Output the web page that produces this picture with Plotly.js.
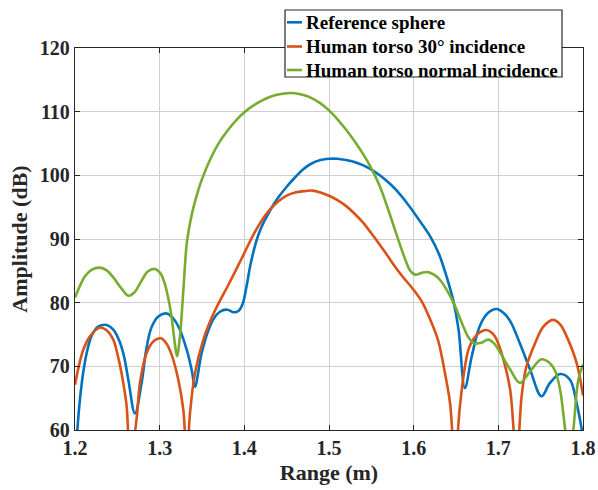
<!DOCTYPE html>
<html>
<head>
<meta charset="utf-8">
<script src="https://cdn.plot.ly/plotly-3.0.1.min.js"></script>
<style>html,body{margin:0;padding:0;background:#fff;}#chart{width:598px;height:490px;}</style>
</head>
<body>
<div id="chart"></div>
<script>
// Reference sphere
const sphereX = [1.200, 1.2027, 1.206, 1.21, 1.215, 1.22, 1.227, 1.2374, 1.245, 1.253, 1.258, 1.263, 1.2708, 1.2787, 1.284, 1.29, 1.298, 1.3083, 1.315, 1.322, 1.332, 1.338, 1.3417, 1.3496, 1.3594, 1.366, 1.373, 1.38, 1.387, 1.393, 1.398, 1.4025, 1.407, 1.414, 1.42, 1.43, 1.44, 1.45, 1.46, 1.47, 1.48, 1.49, 1.50, 1.51, 1.52, 1.53, 1.54, 1.55, 1.56, 1.57, 1.58, 1.59, 1.60, 1.61, 1.62, 1.63, 1.64, 1.647, 1.653, 1.6605, 1.6685, 1.678, 1.688, 1.698, 1.706, 1.714, 1.7255, 1.7375, 1.751, 1.761, 1.773, 1.7846, 1.7925, 1.8];
const sphereY = [55, 60, 65, 69.3, 72.8, 74.9, 76.2, 76.5, 75.8, 73.8, 71.5, 67.9, 62.6, 67.4, 72.5, 76.0, 77.8, 78.3, 77.7, 76.3, 72.6, 69.3, 66.8, 72.1, 76.3, 77.9, 78.7, 78.9, 78.5, 78.7, 79.8, 82.5, 85.8, 89.6, 91.8, 94.4, 96.5, 98.2, 99.7, 101.0, 101.9, 102.4, 102.6, 102.6, 102.4, 102.1, 101.6, 100.9, 100.0, 98.9, 97.6, 96.0, 94.2, 92.3, 90.3, 87.6, 83.6, 80.2, 75.8, 66.6, 71.5, 76.3, 78.4, 79.0, 78.4, 77.1, 73.6, 69.5, 65.3, 67.4, 68.8, 67.9, 64.2, 59];

// Human torso 30° incidence
const obliqueX = [1.200, 1.205, 1.2098, 1.2177, 1.2295, 1.238, 1.2452, 1.25, 1.255, 1.261, 1.265, 1.2728, 1.2767, 1.2846, 1.2925, 1.3012, 1.308, 1.3142, 1.322, 1.328, 1.332, 1.3358, 1.3417, 1.3516, 1.36, 1.37, 1.38, 1.39, 1.40, 1.41, 1.42, 1.43, 1.44, 1.45, 1.46, 1.47, 1.48, 1.49, 1.50, 1.51, 1.52, 1.53, 1.54, 1.55, 1.56, 1.57, 1.58, 1.59, 1.60, 1.61, 1.62, 1.629, 1.637, 1.643, 1.6487, 1.6546, 1.6605, 1.666, 1.676, 1.686, 1.693, 1.698, 1.706, 1.714, 1.7216, 1.7275, 1.733, 1.7433, 1.753, 1.7645, 1.773, 1.7807, 1.7925, 1.8];
const obliqueY = [67.1, 70.3, 72.6, 74.7, 76.1, 75.6, 74.2, 72.0, 68.9, 63.7, 55, 61.8, 67.4, 72.1, 73.9, 74.4, 73.6, 71.8, 67.9, 63.1, 55, 62.6, 68.9, 74.2, 77.2, 80.0, 82.5, 85.1, 87.8, 90.5, 92.8, 94.6, 95.9, 96.8, 97.3, 97.5, 97.6, 97.3, 96.8, 96.1, 95.2, 94.0, 92.6, 90.9, 89.1, 87.2, 85.3, 83.6, 82.0, 80.1, 77.2, 74.0, 68.9, 64.2, 55, 63.7, 69.9, 73.1, 75.1, 75.7, 75.2, 74.2, 71.1, 66.3, 55, 65.3, 69.9, 73.6, 76.2, 77.3, 76.6, 74.7, 70.5, 65.4];

// Human torso normal incidence
const normalX = [1.200, 1.205, 1.212, 1.22, 1.2295, 1.237, 1.245, 1.255, 1.263, 1.27, 1.278, 1.286, 1.2945, 1.301, 1.306, 1.31, 1.314, 1.318, 1.3205, 1.324, 1.328, 1.332, 1.336, 1.34, 1.345, 1.35, 1.36, 1.37, 1.38, 1.39, 1.40, 1.41, 1.42, 1.43, 1.44, 1.45, 1.46, 1.47, 1.48, 1.49, 1.50, 1.51, 1.52, 1.53, 1.54, 1.55, 1.56, 1.57, 1.58, 1.59, 1.596, 1.602, 1.61, 1.617, 1.624, 1.631, 1.639, 1.647, 1.6585, 1.665, 1.672, 1.68, 1.688, 1.695, 1.702, 1.714, 1.7255, 1.7375, 1.751, 1.76, 1.767, 1.773, 1.779, 1.784, 1.7886, 1.7945, 1.8];
const normalY = [80.8, 82.4, 84.2, 85.2, 85.5, 85.1, 84.0, 82.2, 81.1, 81.6, 83.3, 84.9, 85.3, 84.6, 83.0, 80.8, 77.8, 73.5, 71.6, 74.8, 82.0, 89.3, 92.6, 95.0, 97.4, 99.4, 102.6, 105.1, 107.0, 108.6, 109.9, 110.9, 111.7, 112.3, 112.7, 112.9, 112.9, 112.6, 112.1, 111.3, 110.2, 108.8, 107.2, 105.4, 103.4, 101.1, 98.3, 94.6, 90.6, 86.8, 85.0, 84.4, 84.7, 84.8, 84.4, 83.6, 82.0, 80.0, 76.3, 74.5, 73.6, 73.7, 74.2, 73.6, 72.2, 69.5, 67.4, 69.2, 71.1, 70.6, 69.3, 66.3, 60, 55, 60, 67.9, 70.3];

const seriesNames = ["Reference sphere", "Human torso 30° incidence", "Human torso normal incidence"];
const xTicks = [1.2, 1.3, 1.4, 1.5, 1.6, 1.7, 1.8];
const yTicks = [60, 70, 80, 90, 100, 110, 120];

const colors = ["#0072BD", "#D95319", "#77AC30"];
const font = {family: "Liberation Serif, Times New Roman, serif", color: "#262626", weight: "bold"};

const mk = (x, y, i) => ({
  x: x, y: y, type: "scatter", mode: "lines", name: seriesNames[i],
  line: {color: colors[i], width: 2.6, shape: "spline", smoothing: 1},
  cliponaxis: true, showlegend: false
});

const data = [mk(sphereX, sphereY, 0), mk(obliqueX, obliqueY, 1), mk(normalX, normalY, 2)];

// Legend box (MATLAB style, compact), placed in paper coordinates from pixel layout
const M = {l: 75, r: 15, t: 48, b: 60};
const PW = 598 - M.l - M.r, PH = 490 - M.t - M.b;
const px2x = p => (p - M.l) / PW;
const py2y = p => (490 - M.b - p) / PH;
const box = {x0: 285, x1: 562, y0: 10, y1: 77};
const rowsPx = [22.3, 46.5, 70];

const shapes = [{
  type: "rect", xref: "paper", yref: "paper", layer: "above",
  x0: px2x(box.x0), x1: px2x(box.x1), y0: py2y(box.y1), y1: py2y(box.y0),
  fillcolor: "#ffffff", line: {color: "#262626", width: 1.2}
}];
const annotations = [];
seriesNames.forEach((nm, i) => {
  shapes.push({
    type: "line", xref: "paper", yref: "paper", layer: "above",
    x0: px2x(287), x1: px2x(302), y0: py2y(rowsPx[i]), y1: py2y(rowsPx[i]),
    line: {color: colors[i], width: 2.6}
  });
  annotations.push({
    xref: "paper", yref: "paper", x: px2x(304), y: py2y(rowsPx[i]),
    xanchor: "left", yanchor: "middle", showarrow: false, text: nm,
    font: Object.assign({}, font, {size: 19, color: "#000"})
  });
});

const axisCommon = {
  showline: true, linecolor: "#262626", linewidth: 1.2, mirror: "ticks",
  ticks: "inside", ticklen: 5, tickcolor: "#262626",
  showgrid: true, gridcolor: "#cfcfcf", gridwidth: 1, zeroline: false,
  tickfont: Object.assign({}, font, {size: 20})
};

const layout = {
  width: 598, height: 490,
  margin: M,
  paper_bgcolor: "#fff", plot_bgcolor: "#fff",
  font: font,
  showlegend: false,
  shapes: shapes,
  annotations: annotations,
  xaxis: Object.assign({}, axisCommon, {
    range: [1.2, 1.8], tickvals: xTicks, ticktext: xTicks.map(v => v.toFixed(1)),
    title: {text: "Range (m)", font: Object.assign({}, font, {size: 22}), standoff: 6}
  }),
  yaxis: Object.assign({}, axisCommon, {
    range: [60, 120], tickvals: yTicks, ticktext: yTicks.map(String),
    title: {text: "Amplitude (dB)", font: Object.assign({}, font, {size: 22}), standoff: 6}
  })
};

Plotly.newPlot("chart", data, layout, {displayModeBar: false, staticPlot: true});
</script>
</body>
</html>
